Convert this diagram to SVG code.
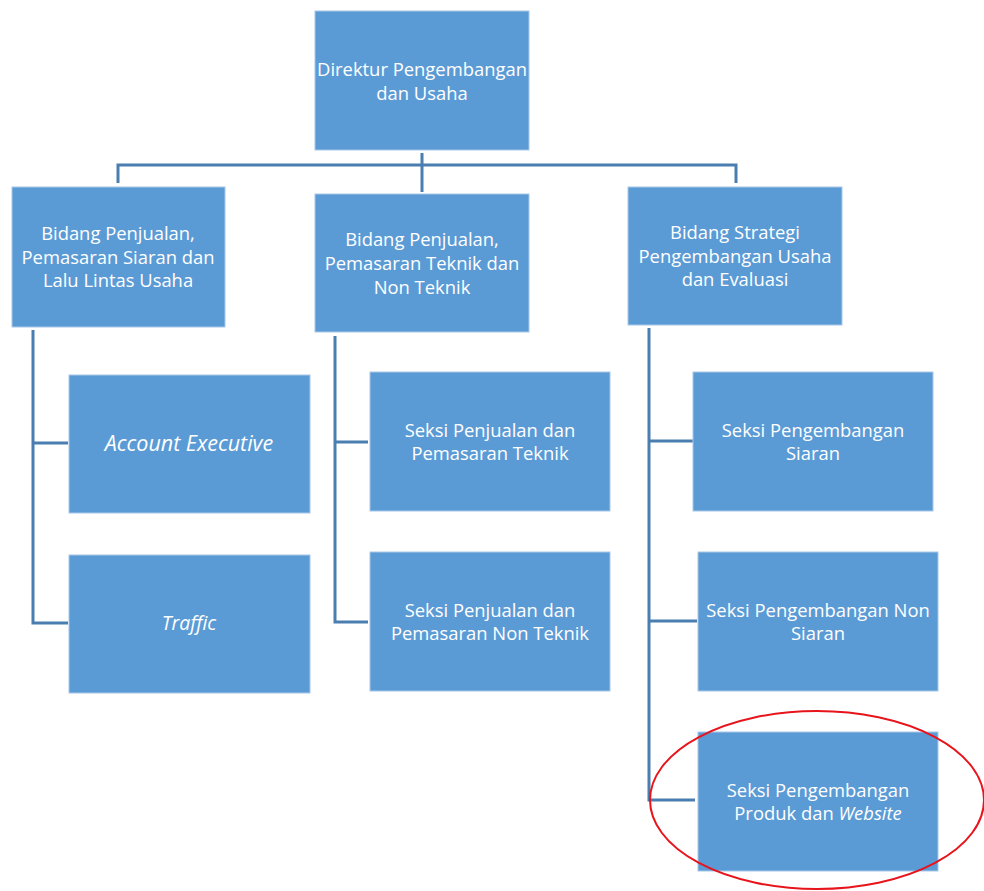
<svg xmlns="http://www.w3.org/2000/svg" width="984" height="891" viewBox="0 0 984 891">
<style>
.box{fill:#5B9BD5;stroke:#A9C8E8;stroke-width:1}
.t{font-family:"Open Sans","Noto Sans","DejaVu Sans",sans-serif;font-size:18.4px;fill:#FFFFFF;text-anchor:middle}
.i{font-style:italic}
.c{fill:none;stroke:#4A7EB0;stroke-width:3}
</style>
<rect width="984" height="891" fill="#FFFFFF"/>
<g id="connectors">
<path class="c" d="M422,153 V192 M118,183 V165 H736 V183"/>
<path class="c" d="M33,330 V623 H68 M33,443 H68"/>
<path class="c" d="M335,336 V622 H368 M335,442 H368"/>
<path class="c" d="M649,328 V800 H695 M649,441 H693 M649,621 H697"/>
</g>
<g id="n-direktur">
<rect class="box" x="315" y="11" width="214" height="139"/>
<text class="t" x="422" y="76">Direktur Pengembangan</text>
<text class="t" x="422" y="100">dan Usaha</text>
</g>
<g id="n-bidang1">
<rect class="box" x="12" y="187" width="213" height="140"/>
<text class="t" x="118" y="240">Bidang Penjualan,</text>
<text class="t" x="118" y="264">Pemasaran Siaran dan</text>
<text class="t" x="118" y="287">Lalu Lintas Usaha</text>
</g>
<g id="n-bidang2">
<rect class="box" x="315" y="194" width="214" height="138"/>
<text class="t" x="422" y="246">Bidang Penjualan,</text>
<text class="t" x="422" y="270">Pemasaran Teknik dan</text>
<text class="t" x="422" y="294">Non Teknik</text>
</g>
<g id="n-bidang3">
<rect class="box" x="628" y="187" width="214" height="138"/>
<text class="t" x="735" y="239">Bidang Strategi</text>
<text class="t" x="735" y="263">Pengembangan Usaha</text>
<text class="t" x="735" y="286">dan Evaluasi</text>
</g>
<g id="n-ae">
<rect class="box" x="69" y="375" width="241" height="138"/>
<text class="t i" x="189" y="451" style="font-size:21.5px">Account Executive</text>
</g>
<g id="n-traffic">
<rect class="box" x="69" y="555" width="241" height="138"/>
<text class="t i" x="189" y="630" style="font-size:19.5px">Traffic</text>
</g>
<g id="n-teknik">
<rect class="box" x="370" y="372" width="240" height="139"/>
<text class="t" x="490" y="437">Seksi Penjualan dan</text>
<text class="t" x="490" y="460">Pemasaran Teknik</text>
</g>
<g id="n-nonteknik">
<rect class="box" x="370" y="552" width="240" height="139"/>
<text class="t" x="490" y="617">Seksi Penjualan dan</text>
<text class="t" x="490" y="640">Pemasaran Non Teknik</text>
</g>
<g id="n-siaran">
<rect class="box" x="693" y="372" width="240" height="139"/>
<text class="t" x="813" y="437">Seksi Pengembangan</text>
<text class="t" x="813" y="460">Siaran</text>
</g>
<g id="n-nonsiaran">
<rect class="box" x="698" y="552" width="240" height="139"/>
<text class="t" x="818" y="617">Seksi Pengembangan Non</text>
<text class="t" x="818" y="640">Siaran</text>
</g>
<g id="n-website">
<rect class="box" x="698" y="732" width="240" height="139"/>
<text class="t" x="818" y="797">Seksi Pengembangan</text>
<text class="t" x="818" y="820">Produk dan <tspan class="i">Website</tspan></text>
</g>
<ellipse cx="817" cy="800" rx="167" ry="89" fill="none" stroke="#E8141B" stroke-width="2"/>
</svg>
